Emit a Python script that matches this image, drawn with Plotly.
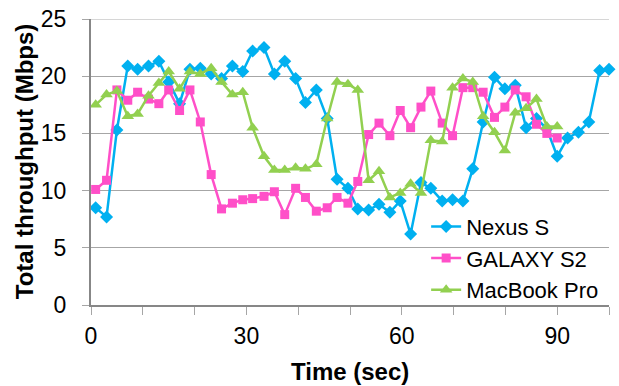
import plotly.graph_objects as go

time_sec = [0.9, 3.0, 5.0, 7.1, 9.0, 11.1, 13.1, 15.0, 17.1, 19.1, 21.1, 23.2, 25.2, 27.3, 29.3,
            31.2, 33.4, 35.4, 37.4, 39.5, 41.4, 43.5, 45.6, 47.5, 49.6, 51.5, 53.6, 55.6, 57.7, 59.7,
            61.7, 63.7, 65.6, 67.8, 69.8, 71.8, 73.7, 75.7, 77.9, 79.9, 81.9, 84.0, 86.0, 88.0, 90.0,
            92.0, 94.1, 96.1, 98.2, 100.0]

nexus_s = [8.5, 7.7, 15.3, 20.9, 20.6, 20.9, 21.3, 19.5, 17.6, 20.6, 20.7, 20.2, 19.8, 20.9, 20.4,
           22.2, 22.5, 20.2, 21.3, 19.8, 17.7, 18.8, 16.3, 11.0, 10.2, 8.4, 8.3, 8.8, 8.1, 9.1,
           6.2, 10.7, 10.2, 9.1, 9.2, 9.1, 11.9, 16.0, 19.9, 18.9, 19.2, 15.5, 16.3, 15.4, 13.0,
           14.6, 15.1, 16.0, 20.5, 20.6]

galaxy_s2 = [10.1, 10.9, 18.8, 17.9, 18.6, 18.0, 17.6, 18.8, 17.0, 18.8, 16.0, 11.4, 8.4, 8.9, 9.2,
             9.3, 9.5, 9.9, 7.9, 10.2, 9.4, 8.2, 8.5, 9.4, 8.9, 10.8, 14.9, 15.9, 14.8, 17.0,
             15.5, 17.3, 18.7, 15.9, 14.8, 19.0, 19.0, 18.6, 16.4, 17.3, 18.8, 18.2, 15.8, 15.0, 14.6]

macbook_pro = [17.5, 18.4, 18.7, 16.5, 16.7, 18.3, 19.4, 20.4, 18.9, 20.4, 20.2, 20.7, 19.5, 18.4, 18.6,
               15.5, 13.0, 11.8, 11.8, 12.0, 11.9, 12.3, 16.3, 19.5, 19.3, 18.8, 10.9, 11.7, 9.4, 9.8,
               10.6, 9.8, 14.4, 14.3, 19.0, 19.8, 19.5, 16.5, 15.1, 13.5, 16.8, 17.2, 18.0, 15.6, 15.6]

x_tick_vals = [0, 10, 20, 30, 40, 50, 60, 70, 80, 90, 100]
x_tick_text = ["0", "", "", "30", "", "", "60", "", "", "90", ""]
y_tick_vals = [0, 5, 10, 15, 20, 25]
y_max = 25

FONT = "Liberation Sans, Arial, sans-serif"

fig = go.Figure()
fig.add_trace(go.Scatter(
    x=time_sec, y=nexus_s, name="Nexus S", mode="lines+markers",
    line=dict(color="#00B0F0", width=2.5),
    marker=dict(symbol="diamond", size=10, color="#00B0F0"), cliponaxis=False))
fig.add_trace(go.Scatter(
    x=time_sec[:len(galaxy_s2)], y=galaxy_s2, name="GALAXY S2", mode="lines+markers",
    line=dict(color="#FF4FC8", width=2.5),
    marker=dict(symbol="square", size=9, color="#FF4FC8"), cliponaxis=False))
fig.add_trace(go.Scatter(
    x=time_sec[:len(macbook_pro)], y=macbook_pro, name="MacBook Pro", mode="lines+markers",
    line=dict(color="#92D050", width=2.5),
    marker=dict(symbol="triangle-up", size=11, color="#92D050"), cliponaxis=False))

# top gridline (plotly drops gridlines at the range ends)
fig.add_shape(type="line", xref="paper", yref="y", x0=-0.0135, x1=1, y0=y_max, y1=y_max,
              line=dict(color="#c8c8c8", width=1.3), layer="below")

fig.update_layout(
    width=619, height=386,
    margin=dict(l=91, r=10, t=19, b=81, autoexpand=False),
    paper_bgcolor="white", plot_bgcolor="white",
    font=dict(family=FONT, size=23, color="black"),
    showlegend=True,
    legend=dict(x=0.647, y=-0.02, xanchor="left", yanchor="bottom",
                bgcolor="rgba(0,0,0,0)", font=dict(size=22, family=FONT, color="black"),
                itemwidth=30, tracegroupgap=0, borderwidth=0),
    xaxis=dict(range=[0, 100], tickmode="array", tickvals=x_tick_vals, ticktext=x_tick_text,
               ticks="outside", ticklen=8, tickwidth=1.3, tickcolor="#a6a6a6",
               showline=True, linecolor="#878787", linewidth=2, automargin=False,
               showgrid=False, zeroline=False, ticklabelstandoff=1,
               ticklabeloverflow="allow", tickfont=dict(size=23, family=FONT)),
    yaxis=dict(range=[0, y_max], tickmode="array", tickvals=y_tick_vals,
               ticks="outside", ticklen=7, tickwidth=1.3, tickcolor="#a6a6a6",
               showline=True, linecolor="#878787", linewidth=2, automargin=False,
               showgrid=True, gridcolor="#a6a6a6", gridwidth=1.3, zeroline=False,
               ticklabelstandoff=11, ticklabeloverflow="allow",
               tickfont=dict(size=23, family=FONT)),
    annotations=[
        dict(text="<b>Time (sec)</b>", xref="paper", yref="paper", x=0.5, y=-0.231,
             xanchor="center", yanchor="middle", showarrow=False,
             font=dict(size=24, family=FONT, color="black")),
        dict(text="<b>Total throughput (Mbps)</b>", xref="paper", yref="paper",
             x=-0.129, y=0.5, xanchor="center", yanchor="middle", textangle=-90,
             showarrow=False, font=dict(size=24, family=FONT, color="black")),
    ],
)

fig.write_html("out.html", config={"displayModeBar": False},
               post_script="document.body.style.margin='0px';")
